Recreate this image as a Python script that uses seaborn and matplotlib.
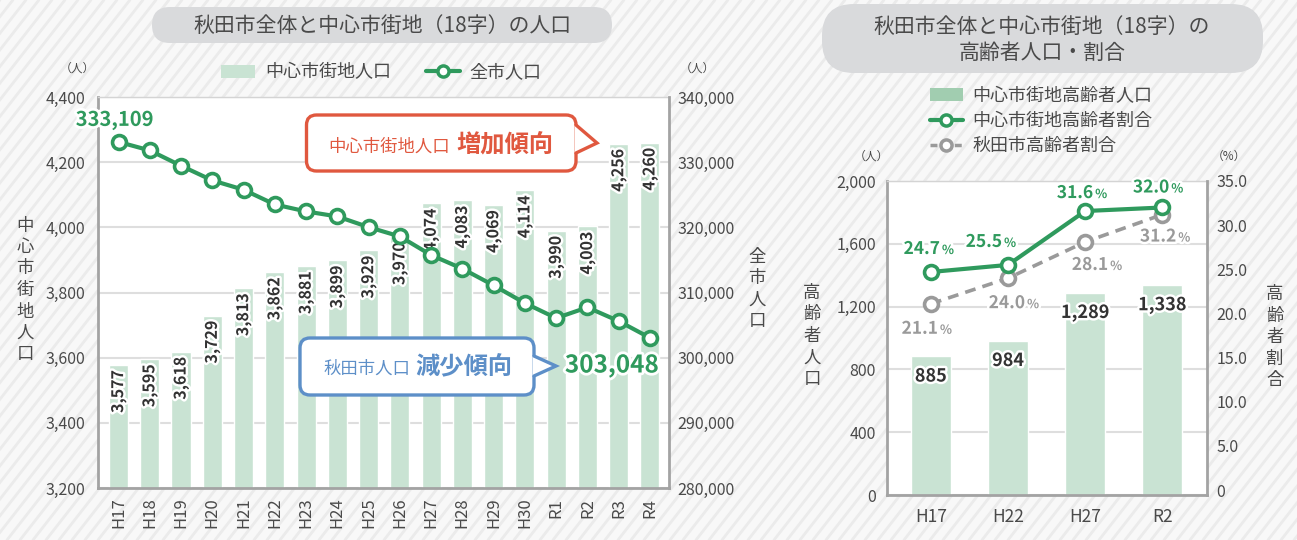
import numpy as np
import pandas as pd
import matplotlib
matplotlib.use("Agg")
import matplotlib.pyplot as plt
import matplotlib.transforms as mtransforms
from matplotlib.patches import FancyBboxPatch, Polygon, Patch
from matplotlib.lines import Line2D
import matplotlib.patheffects as pe
from matplotlib.ticker import FuncFormatter, MultipleLocator
import seaborn as sns

# ---------------- data ----------------
years = ['H17', 'H18', 'H19', 'H20', 'H21', 'H22', 'H23', 'H24', 'H25',
         'H26', 'H27', 'H28', 'H29', 'H30', 'R1', 'R2', 'R3', 'R4']
center_pop = [3577, 3595, 3618, 3729, 3813, 3862, 3881, 3899, 3929,
              3970, 4074, 4083, 4069, 4114, 3990, 4003, 4256, 4260]
city_pop = [333109, 331800, 329450, 327200, 325770, 323510, 322440, 321670, 320030,
            318600, 315740, 313650, 311090, 308370, 306070, 307720, 305610, 303048]

census_years = ['H17', 'H22', 'H27', 'R2']
elderly_pop = [885, 984, 1289, 1338]
center_ratio = [24.7, 25.5, 31.6, 32.0]
city_ratio = [21.1, 24.0, 28.1, 31.2]

left_title = '秋田市全体と中心市街地（18字）の人口'
right_title = ['秋田市全体と中心市街地（18字）の', '高齢者人口・割合']
left_legend = ['中心市街地人口', '全市人口']
right_legend = ['中心市街地高齢者人口', '中心市街地高齢者割合', '秋田市高齢者割合']

# ---------------- style ----------------
sns.set_style('white')
plt.rcParams['font.family'] = ['Noto Sans CJK JP', 'DejaVu Sans']
plt.rcParams['axes.unicode_minus'] = False

W, H = 1297, 540
BAR = '#c9e3d3'
BAR_LEG2 = '#a1cdb0'
GREEN = '#2f9a5d'
GRAY = '#9a9a9a'
RED = '#e0583f'
BLUE = '#5d8fc8'
TXT = '#4a4a4a'
SPINE = '#a3a3a3'
GRID = '#dedede'

fig = plt.figure(figsize=(W / 100, H / 100), dpi=100)
fig.patch.set_facecolor('#f8f8f8')
P = mtransforms.Affine2D().scale(1 / W, -1 / H).translate(0, 1) + fig.transFigure

# background stripes
ang = np.deg2rad(52)
dx = H / np.tan(ang)
for x0 in np.arange(-500, W + 20, 13):
    fig.add_artist(Line2D([x0, x0 + dx], [H, 0], transform=P, color='#ebebeb',
                          lw=2.0, zorder=-5))

stroke = [pe.withStroke(linewidth=3.5, foreground='white')]

# ---------------- left chart ----------------
ax1 = fig.add_axes([98 / W, 1 - 488 / H, (669 - 98) / W, (488 - 97) / H])
ax1.set_facecolor('white')
df1 = pd.DataFrame({'year': years, 'pop': center_pop})
sns.barplot(data=df1, x='year', y='pop', order=years, ax=ax1, color=BAR,
            saturation=1, width=0.61, errorbar=None, zorder=2)
ax1.set_xlim(-0.656, 17.61)
ax1.set_ylim(3200, 4400)
ax1.yaxis.set_major_locator(MultipleLocator(200))
ax1.yaxis.set_major_formatter(FuncFormatter(lambda v, p: f'{int(v):,}'))
ax1.yaxis.grid(True, color=GRID, lw=1.5, zorder=0)
ax1.set_axisbelow(True)
ax1.set_xlabel('')
ax1.set_ylabel('')
ax1.tick_params(axis='y', length=0, pad=9, labelsize=11.5, labelcolor=TXT)
ax1.tick_params(axis='x', length=0, pad=7, labelsize=12, labelcolor=TXT, labelrotation=90)
for s in ['left', 'bottom']:
    ax1.spines[s].set_color(SPINE)
    ax1.spines[s].set_linewidth(2)
ax1.spines['top'].set_color('#d4d4d4')
ax1.spines['top'].set_linewidth(1)
ax1.spines['right'].set_visible(False)

for i, v in enumerate(center_pop):
    ax1.annotate(f'{v:,}', (i, v), xytext=(0, -5), textcoords='offset pixels',
                 rotation=90, ha='center', va='top', fontsize=11.5, fontweight='bold',
                 color='#333333', path_effects=stroke, zorder=4)

ax2 = ax1.twinx()
sns.lineplot(x=np.arange(len(years)), y=city_pop, ax=ax2, color=GREEN, lw=3,
             marker='o', markersize=10, markerfacecolor='white',
             markeredgecolor=GREEN, markeredgewidth=2.6, zorder=5)
ax2.set_ylim(280000, 340000)
ax2.set_xlim(-0.656, 17.61)
ax2.yaxis.set_major_locator(MultipleLocator(10000))
ax2.yaxis.set_major_formatter(FuncFormatter(lambda v, p: f'{int(v):,}'))
ax2.tick_params(axis='y', length=0, pad=6, labelsize=11.5, labelcolor=TXT)
ax2.set_ylabel('')
for s in ['left', 'bottom', 'top']:
    ax2.spines[s].set_visible(False)
ax2.spines['right'].set_color(SPINE)
ax2.spines['right'].set_linewidth(2)

ax2.annotate(f'{city_pop[0]:,}', (0, city_pop[0]), xytext=(-4, 22),
             textcoords='offset pixels', ha='center', va='center', fontsize=14.5,
             fontweight='bold', color=GREEN,
             path_effects=[pe.withStroke(linewidth=4, foreground='white')], zorder=8)
ax2.annotate(f'{city_pop[-1]:,}', (len(years) - 1, city_pop[-1]), xytext=(-38, -28),
             textcoords='offset pixels', ha='center', va='center', fontsize=17.5,
             fontweight='bold', color=GREEN,
             path_effects=[pe.withStroke(linewidth=4, foreground='white')], zorder=8)

# ---------------- right chart ----------------
ax3 = fig.add_axes([887 / W, 1 - 495 / H, 320 / W, (495 - 181) / H])
ax3.set_facecolor('white')
df2 = pd.DataFrame({'year': census_years, 'pop': elderly_pop})
sns.barplot(data=df2, x='year', y='pop', order=census_years, ax=ax3, color=BAR,
            saturation=1, width=0.52, errorbar=None, zorder=2)
ax3.set_xlim(-0.57, 3.58)
ax3.set_ylim(0, 2000)
ax3.yaxis.set_major_locator(MultipleLocator(400))
ax3.yaxis.set_major_formatter(FuncFormatter(lambda v, p: f'{int(v):,}'))
ax3.yaxis.grid(True, color=GRID, lw=1.5, zorder=0)
ax3.set_axisbelow(True)
ax3.set_xlabel('')
ax3.set_ylabel('')
ax3.tick_params(axis='y', length=0, pad=8, labelsize=11.5, labelcolor=TXT)
ax3.tick_params(axis='x', length=0, pad=9, labelsize=12.5, labelcolor=TXT)
for s in ['left', 'bottom']:
    ax3.spines[s].set_color(SPINE)
    ax3.spines[s].set_linewidth(2)
ax3.spines['top'].set_color('#d4d4d4')
ax3.spines['top'].set_linewidth(1)
ax3.spines['right'].set_visible(False)
for i, v in enumerate(elderly_pop):
    ax3.annotate(f'{v:,}', (i, v), xytext=(0, -20), textcoords='offset pixels',
                 ha='center', va='center', fontsize=13, fontweight='bold',
                 color='#333333', path_effects=stroke, zorder=4)

ax4 = ax3.twinx()
sns.lineplot(x=np.arange(len(census_years)), y=city_ratio, ax=ax4, color=GRAY, lw=2.6,
             linestyle=(0, (3, 2)), marker='o', markersize=10, markerfacecolor='white',
             markeredgecolor=GRAY, markeredgewidth=2.6, zorder=5)
sns.lineplot(x=np.arange(len(census_years)), y=center_ratio, ax=ax4, color=GREEN, lw=3,
             marker='o', markersize=10, markerfacecolor='white',
             markeredgecolor=GREEN, markeredgewidth=2.6, zorder=6)
ax4.set_ylim(-0.55, 35)
ax4.set_xlim(-0.57, 3.58)
ax4.yaxis.set_major_locator(MultipleLocator(5))
ax4.yaxis.set_major_formatter(FuncFormatter(lambda v, p: '0' if abs(v) < 1e-9 else f'{v:.1f}'))
ax4.tick_params(axis='y', length=0, pad=7, labelsize=11.5, labelcolor=TXT)
ax4.set_ylabel('')
for s in ['left', 'bottom', 'top']:
    ax4.spines[s].set_visible(False)
ax4.spines['right'].set_color(SPINE)
ax4.spines['right'].set_linewidth(2)

# percent labels: (right edge dx, baseline dy) offsets in pixels
green_off = [(9, 18), (-6, 18), (8, 13), (7, 15)]
gray_off = [(7, -30), (17, -30), (23, -28), (14, -27)]
for vals, offs, col in [(center_ratio, green_off, GREEN), (city_ratio, gray_off, GRAY)]:
    for i, (v, (ox, oy)) in enumerate(zip(vals, offs)):
        ax4.annotate(f'{v:.1f}', (i, v), xytext=(ox, oy), textcoords='offset pixels',
                     ha='right', va='baseline', fontsize=12.5, fontweight='bold',
                     color=col, path_effects=stroke, zorder=9)
        ax4.annotate('%', (i, v), xytext=(ox + 2, oy), textcoords='offset pixels',
                     ha='left', va='baseline', fontsize=9, fontweight='bold',
                     color=col, path_effects=stroke, zorder=9)

# ---------------- titles ----------------
fig.add_artist(FancyBboxPatch((152, 7), 460, 36, boxstyle='round,pad=0,rounding_size=18',
                              transform=P, facecolor='#d9dadc', edgecolor='none', zorder=1))
fig.text(383, 25.5, left_title, transform=P, ha='center', va='center', fontsize=15,
         color=TXT, zorder=2)
fig.add_artist(FancyBboxPatch((822, 4), 441, 69, boxstyle='round,pad=0,rounding_size=32',
                              transform=P, facecolor='#d9dadc', edgecolor='none', zorder=1))
fig.text(1042, 27, right_title[0], transform=P, ha='center', va='center', fontsize=15,
         color=TXT, zorder=2)
fig.text(1042, 53, right_title[1], transform=P, ha='center', va='center', fontsize=15,
         color=TXT, zorder=2)

# units
for x, y, s in [(77, 68, '（人）'), (697, 68, '（人）'), (871, 156, '（人）'), (1229, 156, '（%）')]:
    fig.text(x, y, s, transform=P, ha='center', va='center', fontsize=8.5, color=TXT)

# vertical axis labels
for x, y, s in [(25, 290, '中心市街地人口'), (757, 289, '全市人口'),
                (812, 336, '高齢者人口'), (1275, 337, '高齢者割合')]:
    fig.text(x, y, '\n'.join(s), transform=P, ha='center', va='center', fontsize=12.5,
             color=TXT, linespacing=1.25)

# ---------------- legends ----------------
h_left = [Patch(facecolor=BAR, edgecolor='none'),
          Line2D([], [], color=GREEN, lw=3, marker='o', ms=8, mfc='white', mec=GREEN, mew=2.5)]
fig.legend(h_left, left_legend, loc='center left', bbox_to_anchor=(221 / W, 1 - 72.5 / H),
           ncol=2, frameon=False, fontsize=13, labelcolor=TXT, handlelength=1.9,
           handletextpad=0.55, columnspacing=1.9, borderpad=0, borderaxespad=0)
h_right = [Patch(facecolor=BAR_LEG2, edgecolor='none'),
           Line2D([], [], color=GREEN, lw=3, marker='o', ms=8, mfc='white', mec=GREEN, mew=2.5),
           Line2D([], [], color=GRAY, lw=2.5, ls=(0, (2, 1.5)), marker='o', ms=8, mfc='white',
                  mec=GRAY, mew=2.5)]
fig.legend(h_right, right_legend, loc='upper left', bbox_to_anchor=(930 / W, 1 - 87 / H),
           ncol=1, frameon=False, fontsize=13, labelcolor=TXT, handlelength=1.8,
           handletextpad=0.55, labelspacing=0.4, borderpad=0, borderaxespad=0)

# ---------------- callouts ----------------
def callout(x0, y0, x1, y1, ptr, color, small, big, tx_small, tx_big, base):
    fig.add_artist(FancyBboxPatch((x0, y0), x1 - x0, y1 - y0,
                                  boxstyle='round,pad=0,rounding_size=10', transform=P,
                                  facecolor='white', edgecolor=color, lw=2.4, zorder=10))
    (ax_, ay0), (tx, ty), (_, ay1) = ptr
    fig.add_artist(Polygon([(ax_ - 1.5, ay0), (tx, ty), (ax_ - 1.5, ay1)], closed=True,
                           transform=P, facecolor='white', edgecolor='none', zorder=11))
    fig.add_artist(Line2D([ax_, tx, ax_], [ay0, ty, ay1], transform=P, color=color,
                          lw=2.4, solid_joinstyle='miter', zorder=12))
    fig.text(tx_small, base, small, transform=P, ha='left', va='baseline', fontsize=12.5,
             color=color, zorder=13)
    fig.text(tx_big, base, big, transform=P, ha='left', va='baseline', fontsize=17.5,
             fontweight='bold', color=color, zorder=13)

callout(306.5, 115, 576, 171, [(576, 125), (597, 143), (576, 153)], RED,
        '中心市街地人口', '増加傾向', 328, 456, 152)
callout(300, 338, 534, 395, [(534, 356), (556, 366), (534, 376)], BLUE,
        '秋田市人口', '減少傾向', 323, 415, 374)

fig.savefig('out.png', dpi=100, facecolor=fig.get_facecolor())
